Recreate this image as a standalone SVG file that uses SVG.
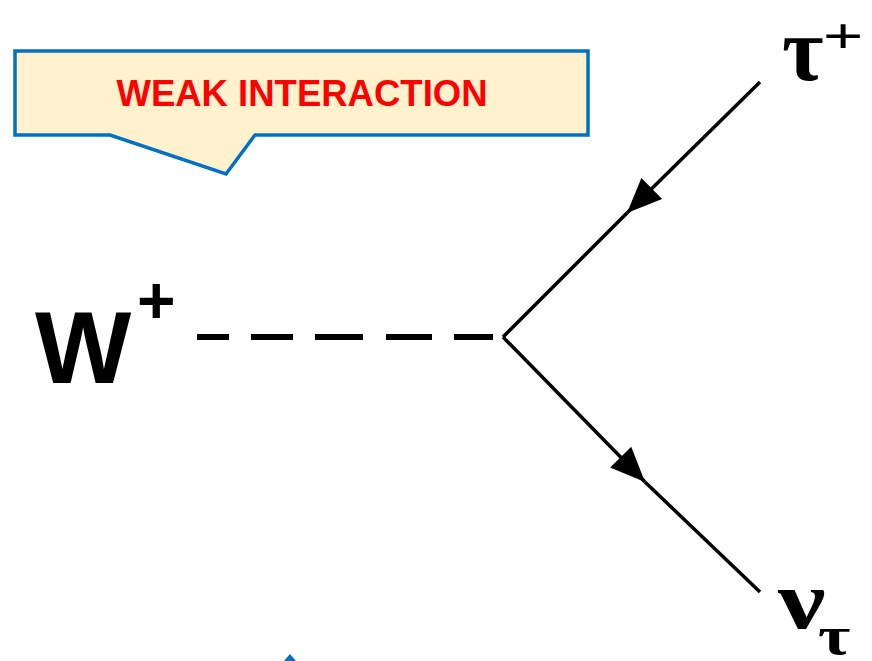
<svg xmlns="http://www.w3.org/2000/svg" width="872" height="661" viewBox="0 0 872 661">
<style>
.line{stroke:#000;stroke-width:3.5;fill:none}
.dash{stroke:#000;stroke-width:6;fill:none;stroke-dasharray:32 22 42 22 48 23 46 22 39 20}
.greek{font-family:"Liberation Serif","DejaVu Serif",serif;font-weight:bold;fill:#000}
.sans{font-family:"Liberation Sans",Arial,sans-serif;font-weight:bold;fill:#000}
</style>
<defs>
<marker id="arr" markerUnits="userSpaceOnUse" markerWidth="40" markerHeight="40" viewBox="-34 -17 38 34" refX="0" refY="0" orient="auto">
<path d="M0,0 L-33,-14 L-33,14 Z" fill="#000"/>
</marker>
</defs>
<g id="callout">
<path d="M15,51 H588 V135 H255 L226,174 L110,135 H15 Z" fill="#fff2cc" stroke="#0070c0" stroke-width="3.5"/>
<text x="302" y="106" text-anchor="middle" font-family="Liberation Sans,Arial,sans-serif" font-weight="bold" font-size="36.5" fill="#ff0000">WEAK INTERACTION</text>
</g>
<g id="connectors">
<line class="dash" x1="197" y1="337" x2="493" y2="337"/>
<line class="line" x1="760" y1="82" x2="627" y2="213" marker-end="url(#arr)"/>
<line class="line" x1="627" y1="213" x2="503" y2="337"/>
<line class="line" x1="503" y1="337" x2="645" y2="482" marker-end="url(#arr)"/>
<line class="line" x1="645" y1="482" x2="760" y2="592"/>
</g>
<g id="W">
<text class="sans" x="35" y="383" font-size="102">W</text>
<text class="sans" x="137" y="323" font-size="66">+</text>
</g>
<g id="tau">
<text class="greek" x="782" y="80" font-size="90">τ</text>
<text class="sans" transform="translate(823,52) scale(1.15,0.8)" x="0" y="0" font-size="60" style="font-weight:normal">+</text>
</g>
<g id="nu">
<text class="greek" transform="translate(778,628) scale(1.3,1)" x="0" y="0" font-size="82">ν</text>
<text class="greek" transform="translate(818,654) scale(1.3,1)" x="0" y="0" font-size="54">τ</text>
</g>
<polygon points="290,654 284,661 296,661" fill="#0070c0"/>
</svg>
